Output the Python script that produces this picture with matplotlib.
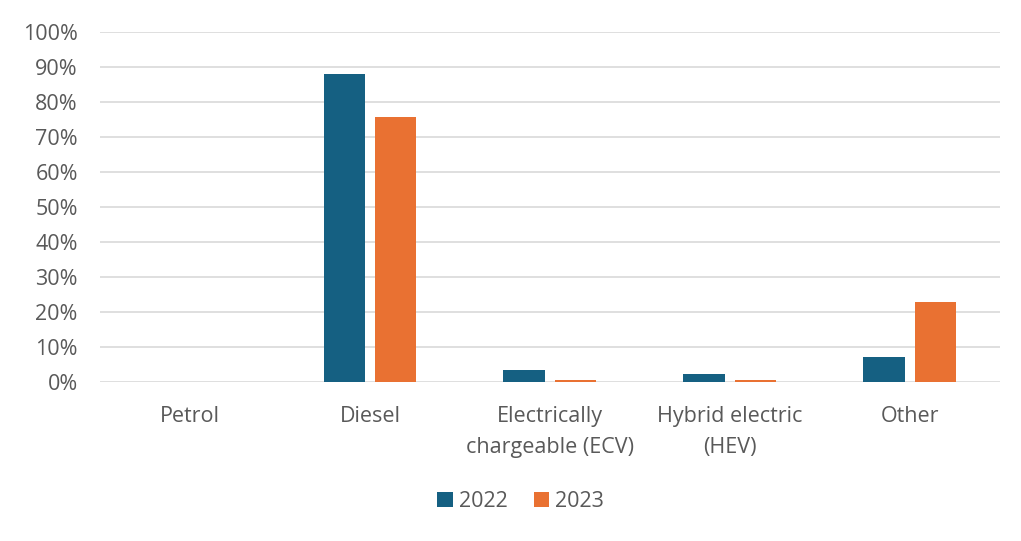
import numpy as np
import matplotlib.pyplot as plt
from matplotlib.ticker import PercentFormatter

categories = ['Petrol', 'Diesel', 'Electrically\nchargeable (ECV)', 'Hybrid electric\n(HEV)', 'Other']
share_2022 = [0.0, 88.0, 3.4, 2.3, 7.1]
share_2023 = [0.0, 75.8, 0.5, 0.5, 22.9]

plt.rcParams['font.family'] = ['Open Sans', 'DejaVu Sans']

fig = plt.figure(figsize=(10.21, 5.41), dpi=100)
ax = fig.add_axes([0.098, 0.294, 0.881, 0.647])

x = np.arange(len(categories))
w = 0.23
gap = 0.055
ax.bar(x - (w + gap) / 2, share_2022, w, color='#156082', label='2022', zorder=3)
ax.bar(x + (w + gap) / 2, share_2023, w, color='#E97132', label='2023', zorder=3)

ax.set_ylim(0, 100)
ax.set_xlim(-0.5, len(categories) - 0.5)
ax.set_yticks(np.arange(0, 101, 10))
ax.yaxis.set_major_formatter(PercentFormatter(decimals=0))
ax.set_xticks(x)
ax.set_xticklabels(categories, linespacing=1.65)
ax.grid(axis='y', color='#D9D9D9', lw=1.2, zorder=0)
for s in ax.spines.values():
    s.set_visible(False)
ax.tick_params(length=0, labelsize=15.5, colors='#595959')
ax.tick_params(axis='x', pad=17)
ax.tick_params(axis='y', pad=16)

fig.legend(loc='center', bbox_to_anchor=(0.51, 0.073), ncol=2, frameon=False,
           fontsize=15.5, labelcolor='#595959', handlelength=0.7, handleheight=0.7,
           handletextpad=0.3, columnspacing=1.2)

fig.savefig('out.png', dpi=100)
